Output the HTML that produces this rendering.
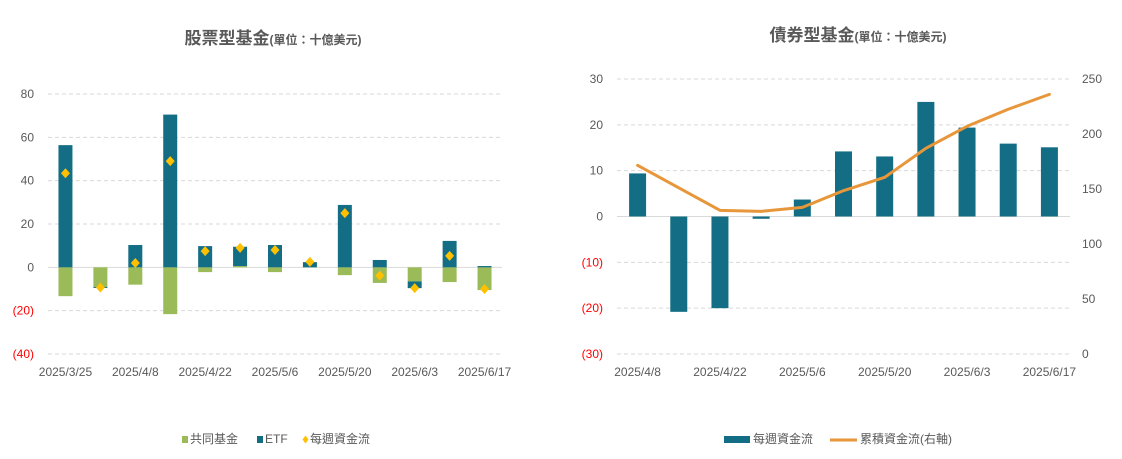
<!DOCTYPE html>
<html><head><meta charset="utf-8">
<style>
html,body{margin:0;padding:0;background:#fff;}
svg{display:block;font-family:"Liberation Sans","Noto Sans CJK TC",sans-serif;}
</style></head>
<body>
<svg id="c" width="1122" height="459" viewBox="0 0 1122 459" xmlns="http://www.w3.org/2000/svg">
<text x="273" y="44" text-anchor="middle" fill="#595959"><tspan font-size="17" font-weight="bold">股票型基金</tspan><tspan font-size="12" font-weight="bold">(單位：十億美元)</tspan></text>
<text x="858" y="41" text-anchor="middle" fill="#595959"><tspan font-size="17" font-weight="bold">債券型基金</tspan><tspan font-size="12" font-weight="bold">(單位：十億美元)</tspan></text>
<g id="L"></g>
<g id="R"></g>
<g font-size="12" fill="#595959">
<rect x="182" y="436" width="6" height="7" fill="#9bbb59"/>
<text x="190" y="443">共同基金</text>
<rect x="257" y="436" width="6" height="7" fill="#136e85"/>
<text x="265" y="443">ETF</text>
<path d="M266 436 l0 0" />
<path d="M265.5 436.5 m0 0" />
<path d="M266 0" />
<path d="M266 0" />
<path d="M266 0" />
<path d="M266 0" />
<path d="M305.5 435.5 l3 4 l-3 4 l-3 -4 z" fill="#ffc000"/>
<text x="310" y="443">每週資金流</text>
</g>
<g font-size="12" fill="#595959">
<rect x="724" y="436" width="26" height="7" fill="#136e85"/>
<text x="753" y="443">每週資金流</text>
<line x1="830" y1="440" x2="857" y2="440" stroke="#e8963a" stroke-width="3"/>
<text x="860" y="443">累積資金流(右軸)</text>
</g>
</svg>
<script>
const eqCats=["2025/3/25","2025/4/1","2025/4/8","2025/4/15","2025/4/22","2025/4/29","2025/5/6","2025/5/13","2025/5/20","2025/5/27","2025/6/3","2025/6/10","2025/6/17"];
const eqEtf=[56.4,-0.5,10.3,70.5,9.8,8.9,10.3,2.4,28.8,3.4,-3.1,12.2,0.6];
const eqMutual=[-13.3,-9,-8,-21.6,-2.2,0.6,-2.2,0,-3.6,-7.2,-6.5,-6.8,-10.5];
const eqNet=[43.4,-9.3,2,49,7.5,9,8,2.5,25,-3.8,-9.6,5.3,-10];
const eqTicks=[80,60,40,20,0,-20,-40];
const bdCats=["2025/4/8","2025/4/15","2025/4/22","2025/4/29","2025/5/6","2025/5/13","2025/5/20","2025/5/27","2025/6/3","2025/6/10","2025/6/17"];
const bdWeekly=[9.4,-20.8,-20,-0.5,3.7,14.2,13.1,25,19.4,15.9,15.1];
const bdCum=[171.5,null,130.6,129.7,133.3,148.5,160.6,187,207,222.5,236];
const bdTicks=[30,20,10,0,-10,-20,-30];
const bdRTicks=[250,200,150,100,50,0];

const NS="http://www.w3.org/2000/svg";
function mk(p,t,a){const e=document.createElementNS(NS,t);for(const k in a)e.setAttribute(k,a[k]);p.appendChild(e);return e;}
function fmt(v){return v<0?"("+Math.abs(v)+")":String(v);}

// Left chart
(function(){
const g=document.getElementById('L');
const x0=48,x1=502,yTop=94,yBot=354,vMax=80,vMin=-40;
const y=v=>yTop+(vMax-v)/(vMax-vMin)*(yBot-yTop);
const step=(x1-x0)/eqCats.length;
const xc=i=>x0+step*(i+0.5);
eqTicks.forEach(t=>{
 const ln=mk(g,'line',{x1:x0,x2:x1,y1:y(t),y2:y(t),stroke:'#d9d9d9','stroke-width':1,'stroke-dasharray':t===0?'':'4 3'});
 
 
 const tx=mk(g,'text',{x:34,y:y(t)+4,'text-anchor':'end','font-size':12,fill:t<0?'#ff0000':'#595959'});
 tx.textContent=fmt(t);
 
 
});
const bw=14;
eqCats.forEach((c,i)=>{
 let pos=0,neg=0;
 [[eqMutual[i],'#9bbb59','bar-mutual'],[eqEtf[i],'#136e85','bar-etf']].forEach(([v,col,nm])=>{
  let a,b;
  if(v>=0){a=pos;b=pos+v;pos=b;}else{a=neg;b=neg+v;neg=b;}
  const r=mk(g,'rect',{x:xc(i)-bw/2,y:Math.min(y(a),y(b)),width:bw,height:Math.abs(y(a)-y(b)),fill:col});
  
  
 });
 if(i%2===0){
  const tx=mk(g,'text',{x:xc(i),y:376,'text-anchor':'middle','font-size':12,fill:'#595959'});
  tx.textContent=c;
  
  
 }
});
eqNet.forEach((v,i)=>{
 const cx=xc(i),cy=y(v);
 const d=mk(g,'path',{d:`M${cx} ${cy-5} L${cx+4.5} ${cy} L${cx} ${cy+5} L${cx-4.5} ${cy} Z`,fill:'#ffc000'});
 
 
});
})();

// Right chart
(function(){
const g=document.getElementById('R');
const x0=617,x1=1070,yTop=79,yBot=354;
const y=v=>yTop+(30-v)/60*(yBot-yTop);
const yr=v=>yTop+(250-v)/250*(yBot-yTop);
const step=(x1-x0)/bdCats.length;
const xc=i=>x0+step*(i+0.5);
bdTicks.forEach(t=>{
 const ln=mk(g,'line',{x1:x0,x2:x1,y1:y(t),y2:y(t),stroke:'#d9d9d9','stroke-width':1,'stroke-dasharray':t===0?'':'4 3'});
 
 
 const tx=mk(g,'text',{x:603,y:y(t)+4,'text-anchor':'end','font-size':12,fill:t<0?'#ff0000':'#595959'});
 tx.textContent=fmt(t);
 
 
});
bdRTicks.forEach(t=>{
 const tx=mk(g,'text',{x:1082,y:yr(t)+4,'text-anchor':'start','font-size':12,fill:'#595959'});
 tx.textContent=String(t);
 
 
});
const bw=17;
bdCats.forEach((c,i)=>{
 const v=bdWeekly[i];
 const r=mk(g,'rect',{x:xc(i)-bw/2,y:Math.min(y(0),y(v)),width:bw,height:Math.abs(y(0)-y(v)),fill:'#136e85'});
 
 
 if(i%2===0){
  const tx=mk(g,'text',{x:xc(i),y:376,'text-anchor':'middle','font-size':12,fill:'#595959'});
  tx.textContent=c;
  
  
 }
});
let d='';
bdCum.forEach((v,i)=>{if(v===null)return;d+=(d?' L':'M')+xc(i)+' '+yr(v);});
const p=mk(g,'path',{d:d,fill:'none',stroke:'#e8963a','stroke-width':3,'stroke-linejoin':'round','stroke-linecap':'round'});


})();
</script>
</body></html>
